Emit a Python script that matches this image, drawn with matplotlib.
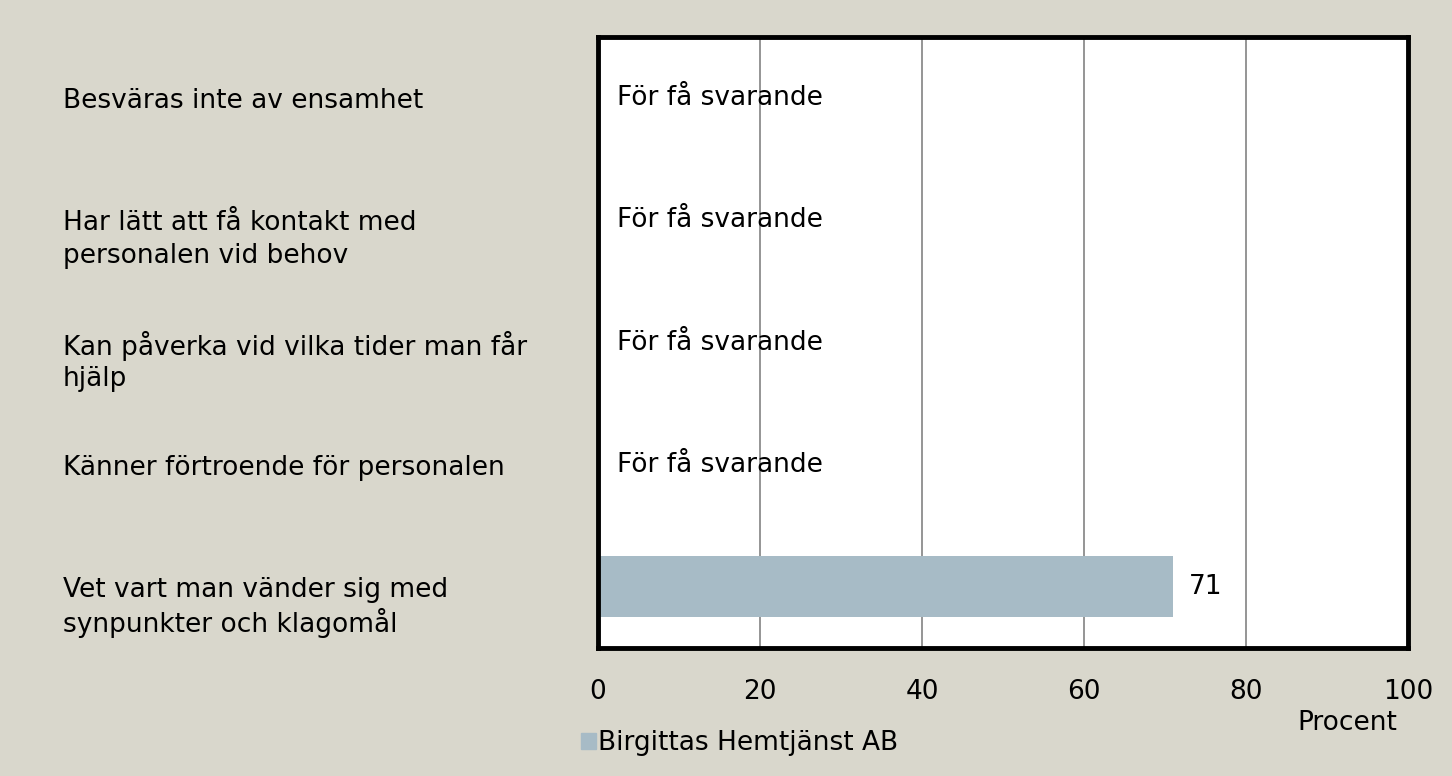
import matplotlib.pyplot as plt
import matplotlib.patches as mpatches

# Data (top to bottom as in the chart)
categories = [
    "Besväras inte av ensamhet",
    "Har lätt att få kontakt med\npersonalen vid behov",
    "Kan påverka vid vilka tider man får\nhjälp",
    "Känner förtroende för personalen",
    "Vet vart man vänder sig med\nsynpunkter och klagomål",
]
values = [None, None, None, None, 71]
series_name = "Birgittas Hemtjänst AB"
no_data_text = "För få svarande"
x_ticks = [0, 20, 40, 60, 80, 100]

bg = "#D9D7CC"
bar_color = "#A7BBC6"
font_size = 19

plt.rcParams['font.family'] = ['DejaVu Sans']

fig = plt.figure(figsize=(14.52, 7.76), dpi=100, facecolor=bg)
ax = fig.add_axes([598 / 1452, 1 - 648 / 776, (1408 - 598) / 1452, (648 - 37) / 776])
ax.set_facecolor("white")

ypos = list(range(len(categories)))
for y, v in zip(ypos, values):
    if v is None:
        ax.text(2.3, y, no_data_text, va='center', ha='left', fontsize=font_size, zorder=3)
    else:
        ax.barh(y, v, height=0.5, color=bar_color, zorder=2)
        ax.text(v + 4, y, f"{v}", va='center', ha='center', fontsize=font_size, zorder=3)

ax.set_xlim(0, 100)
ax.set_ylim(len(categories) - 0.5, -0.5)
ax.set_xticks(x_ticks)
ax.set_xticklabels([str(t) for t in x_ticks], fontsize=font_size)
ax.set_yticks([])
ax.tick_params(axis='x', length=0, pad=22)
ax.grid(True, axis='x', color='#8C8C8C', linewidth=1.3, zorder=1)
ax.set_axisbelow(True)
for s in ax.spines.values():
    s.set_linewidth(3.5)
    s.set_color('black')

# Category labels: first line level with the category, rest below
line_h = 33
for y, lab in zip(ypos, categories):
    for i, line in enumerate(lab.split("\n")):
        ax.annotate(line, xy=(63 / 1452, y), xycoords=('figure fraction', 'data'),
                    xytext=(0, -3 - i * line_h), textcoords='offset pixels',
                    va='center', ha='left', fontsize=font_size, annotation_clip=False)

fig.text(1347 / 1452, 1 - 723 / 776, "Procent", ha='center', va='center', fontsize=font_size)

handle = mpatches.Patch(color=bar_color, label=series_name)
fig.legend(handles=[handle], loc='center left', bbox_to_anchor=(568 / 1452, 1 - 743 / 776),
           frameon=False, fontsize=font_size, handlelength=0.55, handleheight=0.55,
           handletextpad=0.1, borderpad=0)

fig.savefig("out.png", dpi=100, facecolor=bg)
